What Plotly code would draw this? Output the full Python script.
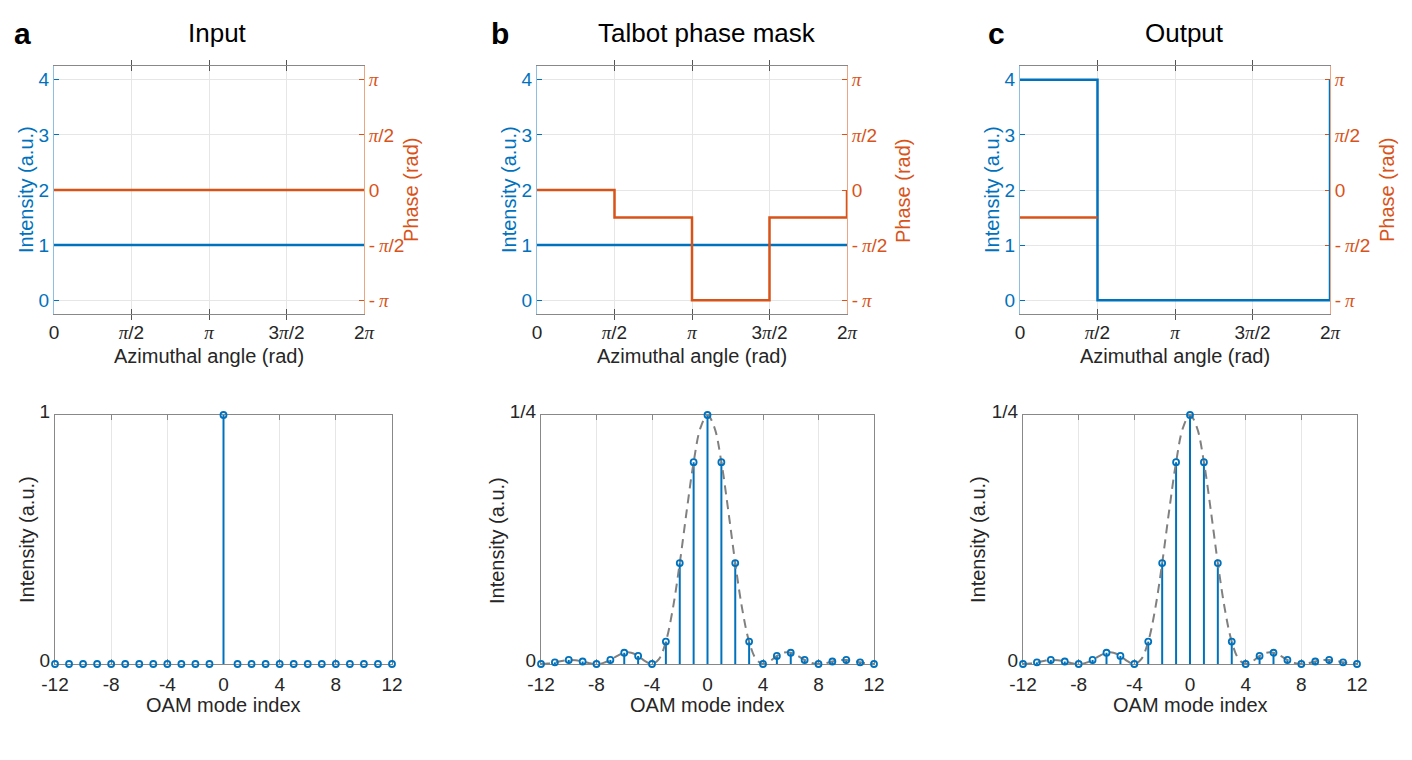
import math
import plotly.graph_objects as go

PI = math.pi
W, H = 1412, 760
OFF = 8  # page body margin of the browser
BLUE = "#0072BD"
ORANGE = "#D95319"
GRAY = "#808080"
DARK = "#262626"
GRID = "#E6E6E6"
FONT = "Liberation Sans"
PI_T = "<span style='font-family:Liberation Serif'><i>π</i></span>"

# ---------------- data ----------------
panel_letters = ["a", "b", "c"]
panel_titles = ["Input", "Talbot phase mask", "Output"]

angle_breaks = [0, PI / 2, PI, 3 * PI / 2, 2 * PI]
angle_ticktext = ["0", PI_T + "/2", PI_T, "3" + PI_T + "/2", "2" + PI_T]
intensity_ticks = [0, 1, 2, 3, 4]
phase_ticks = [-PI, -PI / 2, 0, PI / 2, PI]
phase_ticktext = ["-\u2009" + PI_T, "-\u2009" + PI_T + "/2", "0", PI_T + "/2", PI_T]

input_intensity = [1, 1, 1, 1, 1]
input_phase = [0, 0, 0, 0, 0]
mask_intensity = [1, 1, 1, 1, 1]
mask_phase = [0, -PI / 4, -PI, -PI / 4, 0]
output_intensity = [4, 0, 0, 0, 4]
output_phase = [-PI / 4, -PI / 4, None, None, None]

oam_modes = list(range(-12, 13))
oam_ticks = [-12, -8, -4, 0, 4, 8, 12]
oam_ticktext = ["-12", "-8", "-4", "0", "4", "8", "12"]
input_spectrum = [0, 0, 0, 0, 0, 0, 0, 0, 0, 0, 0, 0, 1,
                  0, 0, 0, 0, 0, 0, 0, 0, 0, 0, 0, 0]
mask_spectrum = [0, 0.0017, 0.0041, 0.0025, 0, 0.0041, 0.0113, 0.0081, 0,
                 0.0225, 0.1013, 0.2026, 0.25, 0.2026, 0.1013, 0.0225, 0,
                 0.0081, 0.0113, 0.0041, 0, 0.0025, 0.0041, 0.0017, 0]
output_spectrum = [0, 0.0017, 0.0041, 0.0025, 0, 0.0041, 0.0113, 0.0081, 0,
                   0.0225, 0.1013, 0.2026, 0.25, 0.2026, 0.1013, 0.0225, 0,
                   0.0081, 0.0113, 0.0041, 0, 0.0025, 0.0041, 0.0017, 0]
envelope_x = [v / 2 for v in range(-24, 25)]
envelope_y = [0, 0.0005, 0.0017, 0.0031, 0.0041, 0.0038, 0.0025, 0.0008,
              0, 0.0011, 0.0041, 0.0082, 0.0113, 0.0114, 0.0081, 0.0029,
              0, 0.0049, 0.0225, 0.0554, 0.1013, 0.1537, 0.2026, 0.2374,
              0.25,
              0.2374, 0.2026, 0.1537, 0.1013, 0.0554, 0.0225, 0.0049, 0,
              0.0029, 0.0081, 0.0114, 0.0113, 0.0082, 0.0041, 0.0011,
              0, 0.0008, 0.0025, 0.0038, 0.0041, 0.0031, 0.0017, 0.0005, 0]

top_intensity = [input_intensity, mask_intensity, output_intensity]
top_phase = [input_phase, mask_phase, output_phase]
spectra = [input_spectrum, mask_spectrum, output_spectrum]
spectrum_top = [1, 0.25, 0.25]
spectrum_toptext = ["1", "1/4", "1/4"]
show_envelope = [False, True, True]

# ---------------- layout geometry (pixels) ----------------
top_x = [(54, 364), (537, 847), (1020, 1330)]
top_y = (66, 314)
bot_x = [(55, 392), (541, 874), (1023, 1357)]
bot_y = (415, 664)


def px(xp):
    return (xp - OFF) / W


def py(yp):
    return 1 - (yp - OFF) / H


fig = go.Figure()
layout = dict(
    width=W, height=H, margin=dict(l=0, r=0, t=0, b=0, pad=0, autoexpand=False),
    paper_bgcolor="white", plot_bgcolor="white", showlegend=False,
    font=dict(family=FONT, size=18, color=DARK),
)
annotations = []


def ann(text, x, y, size, color="black", angle=0, bold=False):
    annotations.append(dict(
        text=f"<b>{text}</b>" if bold else text, x=px(x), y=py(y),
        xref="paper", yref="paper", showarrow=False, textangle=angle,
        xanchor="center", yanchor="middle",
        font=dict(family=FONT, size=size, color=color)))


for i in range(3):
    xn = i + 1
    yl = 2 * i + 1
    yr = 2 * i + 2
    xa = "x" if xn == 1 else f"x{xn}"
    ya_l = "y" if yl == 1 else f"y{yl}"
    ya_r = f"y{yr}"
    x0, x1 = top_x[i]
    layout["xaxis" if xn == 1 else f"xaxis{xn}"] = dict(
        domain=[px(x0), px(x1)], anchor=ya_l, range=[0, 2 * PI],
        tickvals=angle_breaks, ticktext=angle_ticktext, automargin=False,
        ticks="inside", ticklen=5, tickcolor="#555", mirror="allticks",
        showline=True, linecolor="#888", linewidth=1, ticklabelstandoff=1,
        showgrid=True, gridcolor=GRID, gridwidth=1, zeroline=False,
        tickfont=dict(size=19, color=DARK), layer="below traces")
    layout["yaxis" if yl == 1 else f"yaxis{yl}"] = dict(
        domain=[py(top_y[1]), py(top_y[0])], anchor=xa, automargin=False,
        range=[-0.25, 4.25], tickvals=intensity_ticks,
        ticks="inside", ticklen=5, tickcolor=BLUE,
        showline=True, linecolor="#8DBFE3", linewidth=1,
        showgrid=True, gridcolor=GRID, gridwidth=1, zeroline=False,
        tickfont=dict(size=19, color=BLUE), layer="below traces")
    layout[f"yaxis{yr}"] = dict(
        domain=[py(top_y[1]), py(top_y[0])], anchor=xa, overlaying=ya_l,
        side="right", range=[-1.125 * PI, 1.125 * PI], automargin=False,
        tickvals=phase_ticks, ticktext=phase_ticktext,
        ticks="inside", ticklen=5, tickcolor=ORANGE,
        showline=True, linecolor="#EDA483", linewidth=1,
        showgrid=False, zeroline=False,
        tickfont=dict(size=19, color=ORANGE), layer="below traces")

    fig.add_trace(go.Scatter(
        x=angle_breaks, y=top_intensity[i], mode="lines", line_shape="hv",
        line=dict(color=BLUE, width=2.5), xaxis=xa, yaxis=ya_l,
        cliponaxis=False, hoverinfo="skip"))
    fig.add_trace(go.Scatter(
        x=angle_breaks, y=top_phase[i], mode="lines", line_shape="hv",
        line=dict(color=ORANGE, width=2.5), xaxis=xa, yaxis=ya_r,
        cliponaxis=False, connectgaps=False, hoverinfo="skip"))

    # bottom panels
    bxn = i + 4
    byn = i + 7
    bxa = f"x{bxn}"
    bya = f"y{byn}"
    bx0, bx1 = bot_x[i]
    layout[f"xaxis{bxn}"] = dict(
        domain=[px(bx0), px(bx1)], anchor=bya, range=[-12, 12],
        tickvals=oam_ticks, ticktext=oam_ticktext, automargin=False,
        ticks="inside", ticklen=5, tickcolor="#888", ticklabelstandoff=3,
        mirror="allticks", showline=True, linecolor="#888", linewidth=1,
        showgrid=True, gridcolor=GRID, gridwidth=1, zeroline=False,
        tickfont=dict(size=19, color=DARK), layer="below traces")
    layout[f"yaxis{byn}"] = dict(
        domain=[py(bot_y[1]), py(bot_y[0])], anchor=bxa, automargin=False,
        range=[0, spectrum_top[i]], tickvals=[0, spectrum_top[i]],
        ticktext=["0", spectrum_toptext[i]], ticklabelshift=-4,
        ticks="inside", ticklen=5, tickcolor="#888", mirror="allticks",
        showline=True, linecolor="#888", linewidth=1,
        showgrid=False, zeroline=False,
        tickfont=dict(size=19, color=DARK), layer="below traces")

    # stems built from data
    sx, sy = [], []
    for m, v in zip(oam_modes, spectra[i]):
        sx += [m, m, None]
        sy += [0, v, None]
    fig.add_trace(go.Scatter(
        x=sx, y=sy, mode="lines", line=dict(color=BLUE, width=2),
        xaxis=bxa, yaxis=bya, cliponaxis=False, hoverinfo="skip"))
    if show_envelope[i]:
        fig.add_trace(go.Scatter(
            x=envelope_x, y=envelope_y, mode="lines", line_shape="spline",
            line=dict(color=GRAY, width=2, dash="9px,6px"),
            xaxis=bxa, yaxis=bya, cliponaxis=False, hoverinfo="skip"))
    fig.add_trace(go.Scatter(
        x=oam_modes, y=spectra[i], mode="markers",
        marker=dict(symbol="circle-open", size=6, color=BLUE,
                    line=dict(color=BLUE, width=1.8)),
        xaxis=bxa, yaxis=bya, cliponaxis=False, hoverinfo="skip"))

# annotations: panel letters, titles, axis titles
letter_pos = [(22, 33), (500, 33), (996, 33)]
title_pos = [(217, 33), (707, 33), (1184, 33)]
left_title_x = [26, 509, 992]
right_title_x = [411, 903, 1387]
bot_left_title_x = [27, 497, 978]
for i in range(3):
    ann(panel_letters[i], *letter_pos[i], 30, bold=True)
    ann(panel_titles[i], *title_pos[i], 26)
    cx = (top_x[i][0] + top_x[i][1]) / 2
    ann("Azimuthal angle (rad)", cx, 356, 20, color=DARK)
    ann("Intensity (a.u.)", left_title_x[i], 190, 20, color=BLUE, angle=-90)
    ann("Phase (rad)", right_title_x[i], 190, 20, color=ORANGE, angle=-90)
    bcx = (bot_x[i][0] + bot_x[i][1]) / 2
    ann("OAM mode index", bcx, 705, 20, color=DARK)
    ann("Intensity (a.u.)", bot_left_title_x[i], 540, 20, color=DARK, angle=-90)

layout["annotations"] = annotations
fig.update_layout(**layout)
fig.write_html("out.html")
